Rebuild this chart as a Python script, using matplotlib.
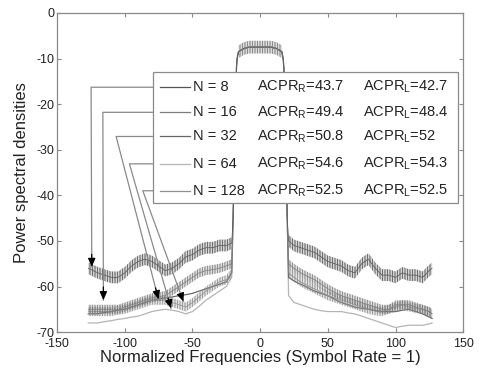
import numpy as np
import matplotlib
matplotlib.use('Agg')
import matplotlib.pyplot as plt
from matplotlib.patches import Rectangle

plt.rcParams['font.family'] = ['Liberation Sans', 'DejaVu Sans']
plt.rcParams['mathtext.default'] = 'regular'
plt.rcParams['axes.unicode_minus'] = False
plt.rcParams['hatch.linewidth'] = 0.6

# frequency grid (normalized, symbol rate = 1)
freq_left = [-127, -120, -115, -110, -105, -100, -95, -90, -85, -80, -75,
             -70, -65, -60, -55, -50, -45, -40, -35, -30, -25, -21]
freq_main = [-20, -19, -18, -17.5, -17, -16, -12, -8, -4, 0, 4, 8, 12,
             16, 17, 17.5, 18, 19, 20]
freq_right = [21, 25, 30, 35, 40, 45, 50, 55, 60, 65, 70, 75, 80, 85, 90,
              95, 100, 105, 110, 115, 120, 125, 127]

# main lobe, common to all curves
psd_main = [-45, -30, -18, -12, -10, -8.5, -7.8, -7.5, -7.5, -7.5, -7.5,
            -7.5, -7.8, -8.5, -10, -12, -18, -30, -45]
ripple_main = 1.4

series = ['N = 8', 'N = 16', 'N = 32', 'N = 64', 'N = 128']
acpr_r = ['43.7', '49.4', '50.8', '54.6', '52.5']
acpr_l = ['42.7', '48.4', '52', '54.3', '52.5']

psd_left = {
    'N = 8': [-56, -57, -57.5, -58, -58, -57, -55.5, -54.5, -54, -54.5, -55.5,
              -56.5, -56, -55, -53.5, -53, -52, -51.5, -51.5, -51, -51, -50.5],
    'N = 16': [-65, -65, -65, -65, -65, -64.5, -64, -63.5, -63, -62.5, -62.2,
               -62, -61, -60, -59, -58, -57, -56.5, -56.3, -56, -55.5, -55],
    'N = 32': [-66, -66, -65.7, -65.5, -65.2, -65, -64.5, -64, -63.5, -63,
               -62.7, -62.5, -62.3, -62, -61.8, -61.5, -61, -60.5, -60, -59.5,
               -59, -57],
    'N = 64': [-68, -68, -67.7, -67.5, -67.2, -67, -66.7, -66.5, -66, -65.5,
               -65.2, -65, -65.2, -65.5, -66, -65.5, -64.3, -63, -62, -61,
               -60, -58],
    'N = 128': [-65.5, -65.5, -65.5, -65.5, -65.2, -65, -64.5, -64, -63.5, -63,
                -63, -63, -63.5, -64, -64.5, -63.5, -62.3, -61, -60, -59,
                -58.5, -57],
}
psd_right = {
    'N = 8': [-50, -51, -51.5, -52, -52.5, -53.5, -54.5, -55, -55.5, -56.5,
              -57, -55, -54, -56, -57.5, -57.5, -58, -57, -57.5, -57.5, -58,
              -56.5, -56],
    'N = 16': [-55, -56, -57, -57.8, -58.5, -59.5, -60.5, -61.3, -62, -62.5,
               -63, -63.5, -64, -64.5, -65, -65, -64.5, -64, -64, -64.5, -65,
               -65.5, -66],
    'N = 32': [-58, -58.8, -59.5, -60.2, -61, -61.5, -62, -62.8, -63.5, -64,
               -64.5, -64.8, -65, -65.3, -65.5, -65.5, -65.5, -65.2, -65,
               -65.5, -66, -66.7, -67],
    'N = 64': [-62, -63.5, -64, -64.5, -65, -65.3, -65.5, -65.5, -65.5, -65.8,
               -66, -66.5, -67, -67.5, -68, -68.5, -69, -68.7, -68.5, -68.5,
               -68.5, -68.2, -68],
    'N = 128': [-57, -58, -59, -59.8, -60.5, -61.3, -62, -62.5, -63, -63.5,
                -64, -64.5, -65, -65.3, -65.5, -65, -64, -64, -64.5, -64.8,
                -65, -65.5, -66],
}
ripple = {'N = 8': 1.3, 'N = 16': 1.0, 'N = 32': 0.0, 'N = 64': 0.0, 'N = 128': 1.0}
colors = {'N = 8': '#555555', 'N = 16': '#7c7c7c', 'N = 32': '#666666',
          'N = 64': '#b4b4b4', 'N = 128': '#8e8e8e'}

# arrows: (corner point, tip point) in data coords, one per legend row
arrow_corner = [(-124.9, -16.3), (-116.2, -21.8), (-106.4, -27.1),
                (-96.6, -33.1), (-86.7, -39.0)]
arrow_tip = [(-124.4, -55.7), (-115.8, -63.0), (-75.1, -62.8),
             (-65.8, -64.8), (-56.7, -63.3)]

fig = plt.figure(figsize=(4.84, 3.69), dpi=100)
ax = fig.add_axes([0.118, 0.100, 0.839, 0.865])

HATCH = '|' * 10

# draw thin curves first, rippled ones on top
order = ['N = 64', 'N = 32', 'N = 128', 'N = 16', 'N = 8']
for name in order:
    c = colors[name]
    x = freq_left + freq_main + freq_right
    y = psd_left[name] + psd_main + psd_right[name]
    r = ripple[name]
    ax.plot(x, y, color=c, lw=0.5 if r > 0 else 0.9, zorder=3)
    if r > 0:
        for fx, fy in [(freq_left, psd_left[name]), (freq_right, psd_right[name])]:
            fy = np.array(fy)
            ax.fill_between(fx, fy - r, fy + r, facecolor='none', edgecolor=c,
                            hatch=HATCH, linewidth=0, zorder=3)

pm = np.array(psd_main)
inner = slice(5, 14)
ax.fill_between(np.array(freq_main)[inner], pm[inner] - ripple_main,
                pm[inner] + ripple_main, facecolor='none', edgecolor='#777777',
                hatch=HATCH, linewidth=0, zorder=3)

ax.set_xlim(-150, 150)
ax.set_ylim(-70, 0)
ax.set_xticks(np.arange(-150, 151, 50))
ax.set_yticks(np.arange(-70, 1, 10))
ax.tick_params(direction='in', length=3, top=True, right=True, labelsize=9,
               colors='#888888', labelcolor='#222222', pad=2)
ax.tick_params(axis='x', pad=4)
for s in ax.spines.values():
    s.set_color('#8a8a8a')
    s.set_linewidth(0.9)
ax.set_xlabel('Normalized Frequencies (Symbol Rate = 1)', fontsize=12,
              color='#222222', labelpad=0)
ax.set_ylabel('Power spectral densities', fontsize=12, color='#222222',
              labelpad=5)

# legend box drawn by hand so the three columns line up
box_x0, box_x1, box_y0, box_y1 = -79.3, 145.8, -41.7, -12.9
ax.add_patch(Rectangle((box_x0, box_y0), box_x1 - box_x0, box_y1 - box_y0,
                       facecolor='white', edgecolor='#8a8a8a', lw=0.9, zorder=5))
for i, name in enumerate(series):
    ry = arrow_corner[i][1]
    ax.plot([-74, -52], [ry, ry], color=colors[name], lw=0.9, zorder=6)
    ax.text(-49.5, ry, name, fontsize=10.5, va='center', color='#222222', zorder=6)
    ax.text(-2, ry, 'ACPR$_R$=' + acpr_r[i], fontsize=10.5, va='center',
            color='#222222', zorder=6)
    ax.text(76, ry, 'ACPR$_L$=' + acpr_l[i], fontsize=10.5, va='center',
            color='#222222', zorder=6)

    # leader line from the legend to its curve
    cx, cy = arrow_corner[i]
    tx, ty = arrow_tip[i]
    ax.plot([box_x0, cx, tx], [cy, cy, ty], color='#8a8a8a', lw=0.9, zorder=4)
    ax.annotate('', xy=(tx, ty), xytext=(cx + (tx - cx) * 0.93, cy + (ty - cy) * 0.93),
                arrowprops=dict(arrowstyle='-|>,head_length=0.5,head_width=0.22',
                                color='black', lw=0.9, shrinkA=0, shrinkB=0),
                zorder=7)

fig.savefig('out.png', dpi=100)
